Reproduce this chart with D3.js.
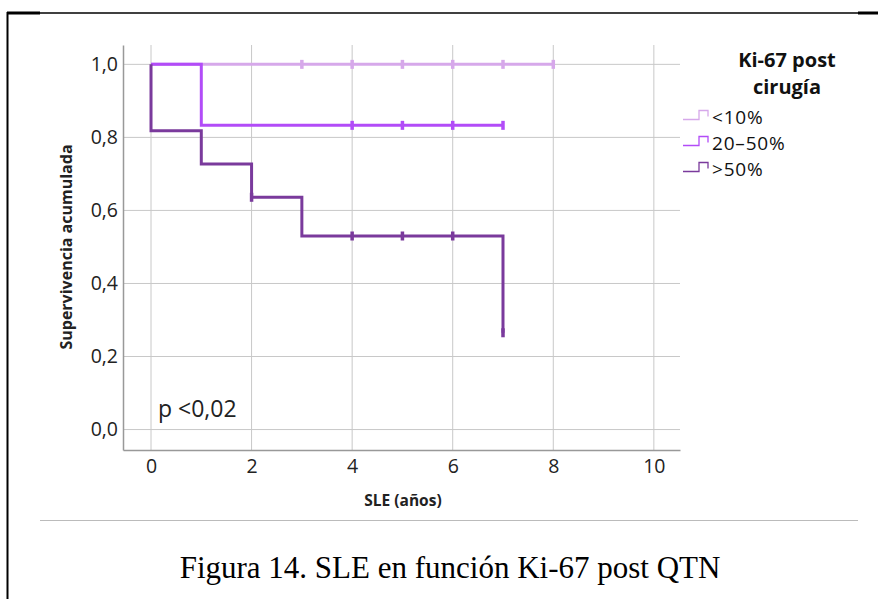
<!DOCTYPE html>
<html>
<head>
<meta charset="utf-8">
<script src="https://cdn.jsdelivr.net/npm/d3@7"></script>
<style>
  body { margin: 0; background: #fff; }
  svg { display: block; }
</style>
</head>
<body>
<svg id="chart" width="878" height="599"></svg>
<script>
// group labels and colours
const groups = ["<10%", "20\u201350%", ">50%"];
const colors = ["#d6a8ea", "#b24cf8", "#7a3a9c"];

// Kaplan-Meier steps: [time, survival] after each change
const stepsLow = [[0, 1.0], [8, 1.0]];
const stepsMid = [[0, 1.0], [1, 0.833], [7, 0.833]];
const stepsHigh = [[0, 1.0], [0, 0.818], [1, 0.727], [2, 0.636], [3, 0.53], [7, 0.53], [7, 0.265]];

// censored times
const censLow = [[3, 1.0], [4, 1.0], [5, 1.0], [6, 1.0], [7, 1.0], [8, 1.0]];
const censMid = [[4, 0.833], [5, 0.833], [6, 0.833], [7, 0.833]];
const censHigh = [[2, 0.636], [4, 0.53], [5, 0.53], [6, 0.53], [7, 0.265]];

const xTicks = [0, 2, 4, 6, 8, 10];
const yTicks = [0, 0.2, 0.4, 0.6, 0.8, 1.0];
const legendTitle = ["Ki-67 post", "cirugía"];

const font = "'Open Sans', 'DejaVu Sans', sans-serif";
const svg = d3.select("#chart");

// page frame
svg.append("line").attr("x1", 7).attr("x2", 878).attr("y1", 13).attr("y2", 13)
    .attr("stroke", "#000").attr("stroke-width", 1.5);
svg.append("line").attr("x1", 7).attr("x2", 40).attr("y1", 13).attr("y2", 13)
    .attr("stroke", "#000").attr("stroke-width", 3);
svg.append("line").attr("x1", 858).attr("x2", 878).attr("y1", 13).attr("y2", 13)
    .attr("stroke", "#000").attr("stroke-width", 3);
svg.append("line").attr("x1", 7.5).attr("x2", 7.5).attr("y1", 12).attr("y2", 599)
    .attr("stroke", "#000").attr("stroke-width", 2);

const x = d3.scaleLinear().domain([-0.557, 10.52]).range([123, 680]);
const y = d3.scaleLinear().domain([-0.056, 1.053]).range([450, 45]);

// grid
svg.append("g").selectAll("line").data(xTicks).join("line")
    .attr("x1", d => x(d)).attr("x2", d => x(d))
    .attr("y1", y.range()[1]).attr("y2", y.range()[0])
    .attr("stroke", "#c8c8c8").attr("stroke-width", 1);
svg.append("g").selectAll("line").data(yTicks).join("line")
    .attr("x1", x.range()[0]).attr("x2", x.range()[1])
    .attr("y1", d => y(d)).attr("y2", d => y(d))
    .attr("stroke", "#c8c8c8").attr("stroke-width", 1);

// axes
const xAxis = svg.append("g").attr("transform", `translate(0,${y.range()[0]})`)
    .call(d3.axisBottom(x).tickValues(xTicks).tickSize(0).tickPadding(9));
const yAxis = svg.append("g").attr("transform", `translate(${x.range()[0]},0)`)
    .call(d3.axisLeft(y).tickValues(yTicks).tickSize(0).tickPadding(5)
        .tickFormat(d => d3.format(".1f")(d).replace(".", ",")));
[xAxis, yAxis].forEach(a => {
    a.select(".domain").attr("stroke", "#999").attr("stroke-width", 1.5);
    a.selectAll("text").attr("font-family", font)
        .attr("font-size", 19.5).attr("fill", "#222");
});

// curves
const stepLine = d3.line().x(d => x(d[0])).y(d => y(d[1])).curve(d3.curveStepAfter);
const allSteps = [stepsLow, stepsMid, stepsHigh];
const allCens = [censLow, censMid, censHigh];

allSteps.forEach((s, i) => {
    svg.append("path").datum(s)
        .attr("d", stepLine)
        .attr("fill", "none")
        .attr("stroke", colors[i])
        .attr("stroke-width", 3);
});
allCens.forEach((c, i) => {
    svg.append("g").selectAll("line").data(c).join("line")
        .attr("x1", d => x(d[0])).attr("x2", d => x(d[0]))
        .attr("y1", d => y(d[1]) - 4.5).attr("y2", d => y(d[1]) + 4.5)
        .attr("stroke", colors[i]).attr("stroke-width", 3.5);
});

// labels
svg.append("text")
    .attr("transform", `translate(71.5,247) rotate(-90)`)
    .attr("text-anchor", "middle")
    .attr("font-family", font)
    .attr("font-size", 16).attr("font-weight", "bold").attr("fill", "#222")
    .text("Supervivencia acumulada");
svg.append("text")
    .attr("x", 403).attr("y", 506)
    .attr("text-anchor", "middle")
    .attr("font-family", font)
    .attr("font-size", 15.5).attr("font-weight", "bold").attr("fill", "#222")
    .text("SLE (años)");
svg.append("text")
    .attr("x", 158).attr("y", 417)
    .attr("font-family", font)
    .attr("font-size", 23).attr("fill", "#222")
    .text("p <0,02");

// legend
svg.append("g").selectAll("text").data(legendTitle).join("text")
    .attr("x", 787).attr("y", (d, i) => 67 + i * 27)
    .attr("text-anchor", "middle")
    .attr("font-family", font)
    .attr("font-size", 20).attr("font-weight", "bold").attr("fill", "#111")
    .text(d => d);

const legIcon = d3.line();
groups.forEach((g, i) => {
    const ly = 123.5 + i * 26;
    svg.append("path")
        .attr("d", legIcon([[683, ly - 4], [699, ly - 4], [699, ly - 13], [708, ly - 13], [708, ly - 7]]))
        .attr("fill", "none").attr("stroke", colors[i]).attr("stroke-width", 1.3);
    svg.append("text")
        .attr("x", 712).attr("y", ly)
        .attr("font-family", font)
        .attr("font-size", 19).attr("letter-spacing", 0.8).attr("fill", "#111")
        .text(g);
});

// separator and caption
svg.append("line").attr("x1", 40).attr("x2", 858).attr("y1", 520.5).attr("y2", 520.5)
    .attr("stroke", "#bbb").attr("stroke-width", 1);
svg.append("text")
    .attr("x", 450).attr("y", 578)
    .attr("text-anchor", "middle")
    .attr("font-family", "'Liberation Serif', 'Times New Roman', serif")
    .attr("font-size", 31).attr("fill", "#000")
    .text("Figura 14. SLE en función Ki-67 post QTN");
</script>
</body>
</html>
